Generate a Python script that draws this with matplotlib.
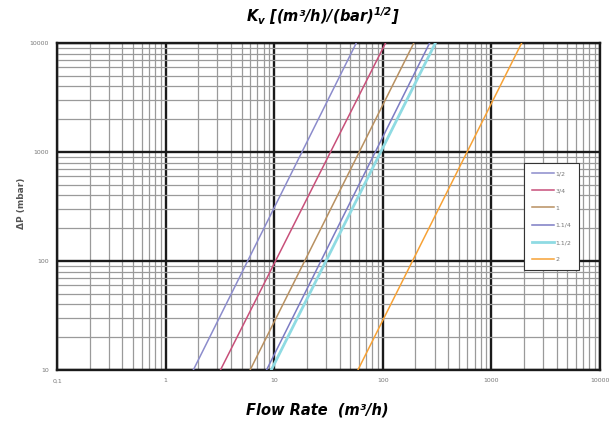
import matplotlib.pyplot as plt
from matplotlib.ticker import LogLocator, FixedLocator, FixedFormatter, NullFormatter

# Valve sizes and flow at the bottom (10 mbar) and top (10000 mbar) edges
sizes = ["1/2", "3/4", "1", "1.1/4", "1.1/2", "2"]
dp_ends = [10, 10000]
flow_at_10 = [1.8, 3.2, 6.0, 8.5, 9.4, 59]
flow_at_10000 = [57, 106, 193, 270, 305, 1900]
colors = ["#8c8ccc", "#c8507a", "#b89060", "#7c7cc4", "#8fdbe3", "#f7a236"]
widths = [1.1, 1.1, 1.1, 1.1, 2.0, 1.1]

x_ticks = [0.1, 1, 10, 100, 1000, 10000]
x_labels = ["0,1", "1", "10", "100", "1000", "10000"]
y_ticks = [10, 100, 1000, 10000]
y_labels = ["10", "100", "1000", "10000"]

plt.rcParams['mathtext.fontset'] = 'custom'
plt.rcParams['mathtext.it'] = 'DejaVu Sans:bold:italic'
plt.rcParams['mathtext.rm'] = 'DejaVu Sans:bold:italic'

fig = plt.figure(figsize=(6.11, 4.24), dpi=100)
ax = fig.add_axes([0.0933, 0.1274, 0.8887, 0.7712])

for i in range(len(sizes)):
    ax.plot([flow_at_10[i], flow_at_10000[i]], dp_ends, color=colors[i],
            lw=widths[i], label=sizes[i], zorder=3)

ax.set_xscale("log")
ax.set_yscale("log")
ax.set_xlim(0.1, 10000)
ax.set_ylim(10, 10000)

ax.xaxis.set_major_locator(FixedLocator(x_ticks))
ax.xaxis.set_major_formatter(FixedFormatter(x_labels))
ax.yaxis.set_major_locator(FixedLocator(y_ticks))
ax.yaxis.set_major_formatter(FixedFormatter(y_labels))
ax.xaxis.set_minor_locator(LogLocator(base=10, subs=range(2, 10)))
ax.yaxis.set_minor_locator(LogLocator(base=10, subs=range(2, 10)))
ax.xaxis.set_minor_formatter(NullFormatter())
ax.yaxis.set_minor_formatter(NullFormatter())

ax.grid(which="major", color="#1a1a1a", lw=1.7)
ax.grid(which="minor", color="#9a9a9a", lw=0.9)
ax.tick_params(which="both", length=0, labelsize=4.5, labelcolor="#777777", pad=6)
for s in ax.spines.values():
    s.set_color("#1a1a1a")
    s.set_linewidth(1.7)

leg = ax.legend(loc="upper right", bbox_to_anchor=(0.967, 0.642), fontsize=4.5,
                frameon=True, fancybox=False, edgecolor="#333333", framealpha=1,
                handlelength=3.5, labelspacing=1.9, borderpad=1.2, handletextpad=0.3)
leg.get_frame().set_linewidth(0.8)
for t in leg.get_texts():
    t.set_color("#777777")

fig.text(0.528, 0.962, r"$K_v$ [(m³/h)/(bar)$^{1/2}$]", ha="center", va="center",
         fontsize=10.5, fontweight="bold", style="italic")
fig.text(0.52, 0.033, "Flow Rate  (m³/h)", ha="center", va="center",
         fontsize=10.5, fontweight="bold", style="italic")
fig.text(0.035, 0.52, "ΔP (mbar)", ha="center", va="center", rotation=90,
         fontsize=6.5, fontweight="bold", color="#555555")

plt.savefig("out.png", dpi=100)
plt.close()
